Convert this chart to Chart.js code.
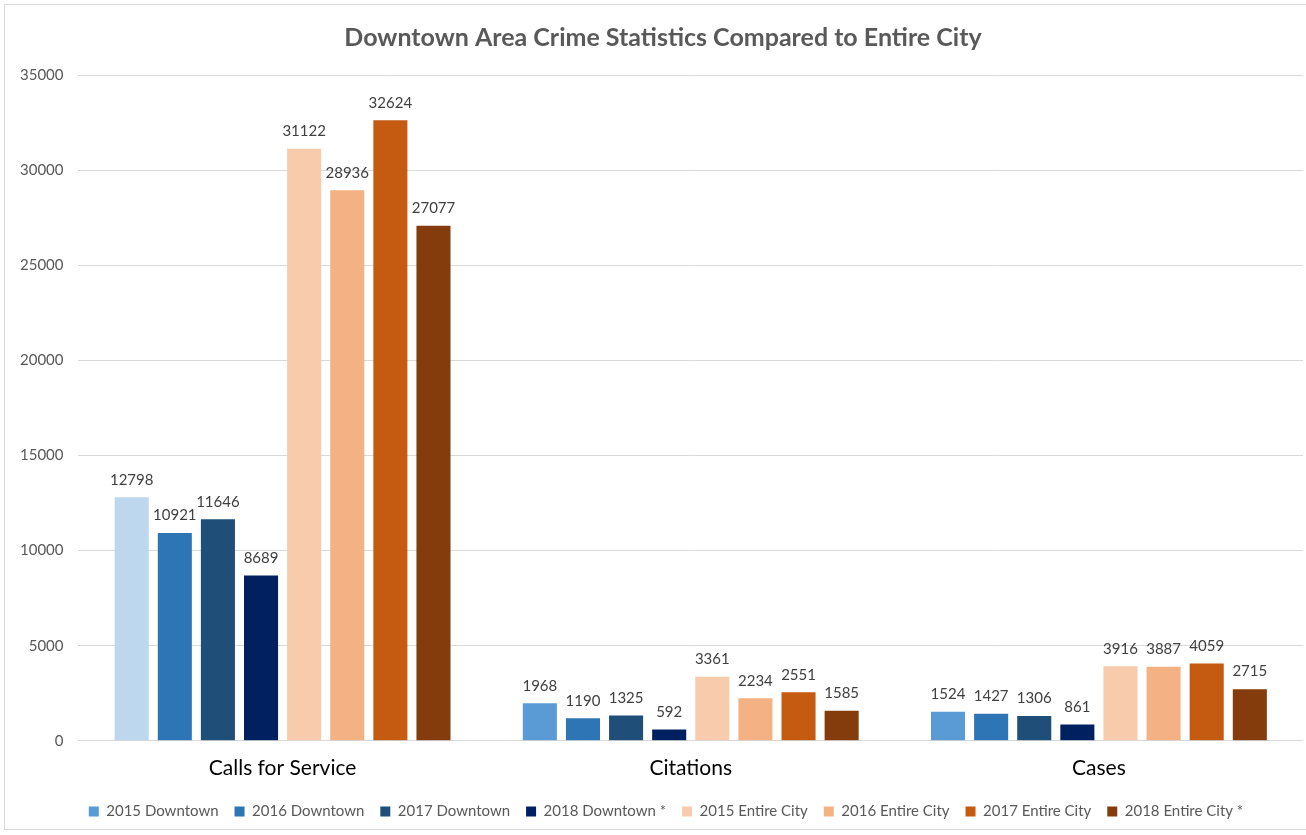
<!DOCTYPE html>
<html>
<head>
<meta charset="utf-8">
<script src="https://cdn.jsdelivr.net/npm/chart.js@4/dist/chart.umd.min.js"></script>
<style>
  html, body { margin: 0; padding: 0; background: #fff; overflow: hidden; width: 1306px; height: 835px; }
  #wrap {
    position: absolute; left: 4px; top: 4px;
    width: 1322px; height: 826px;
    border: 1px solid #d9d9d9; box-sizing: border-box;
  }
</style>
</head>
<body>
<div id="wrap"><canvas id="crimeChart"></canvas></div>
<script>
// Chart data
const categories = ['Calls for Service', 'Citations', 'Cases'];
const seriesNames = [
    '2015 Downtown', '2016 Downtown', '2017 Downtown', '2018 Downtown *',
    '2015 Entire City', '2016 Entire City', '2017 Entire City', '2018 Entire City *'
];
const downtown2015 = [12798, 1968, 1524];
const downtown2016 = [10921, 1190, 1427];
const downtown2017 = [11646, 1325, 1306];
const downtown2018 = [8689, 592, 861];
const city2015 = [31122, 3361, 3916];
const city2016 = [28936, 2234, 3887];
const city2017 = [32624, 2551, 4059];
const city2018 = [27077, 1585, 2715];
const yTicks = [0, 5000, 10000, 15000, 20000, 25000, 30000, 35000];

const seriesValues = [downtown2015, downtown2016, downtown2017, downtown2018,
                      city2015, city2016, city2017, city2018];
const seriesColors = ['#5B9BD5', '#2E75B6', '#1F4E79', '#002060',
                      '#F8CBAD', '#F4B183', '#C55A11', '#843C0C'];

const FONT = 'Lato, "Open Sans", sans-serif';

// Draw value labels on top of bars
const barValueLabels = {
    id: 'barValueLabels',
    afterDatasetsDraw(chart) {
        const { ctx } = chart;
        ctx.save();
        ctx.font = '15px ' + FONT;
        ctx.fillStyle = '#404040';
        ctx.textAlign = 'center';
        ctx.textBaseline = 'bottom';
        chart.data.datasets.forEach((ds, i) => {
            const meta = chart.getDatasetMeta(i);
            meta.data.forEach((bar, j) => {
                ctx.fillText(String(ds.data[j]), bar.x, bar.y - 10);
            });
        });
        ctx.restore();
    }
};

// Nudge title and legend to the right a little (the original is centred on a wider frame)
const centerNudge = {
    id: 'centerNudge',
    afterLayout(chart) {
        const t = chart.titleBlock, l = chart.legend;
        if (t) { t.left += 9; t.right += 9; }
        if (l) { l.left += 12; l.right += 12; }
    }
};

const datasets = seriesNames.map((name, i) => {
    let bg = seriesColors[i];
    // first point of 2015 Downtown is drawn lighter in the original
    if (i === 0) {
        bg = seriesValues[i].map((v, j) => j === 0 ? '#BDD7EE' : seriesColors[i]);
    }
    return {
        label: name,
        data: seriesValues[i],
        backgroundColor: bg,
        borderWidth: 0,
        barPercentage: 0.79,
        categoryPercentage: 0.845
    };
});

const ctx = document.getElementById('crimeChart');
new Chart(ctx, {
    type: 'bar',
    data: { labels: categories, datasets: datasets },
    options: {
        responsive: true,
        maintainAspectRatio: false,
        animation: false,
        layout: { padding: { left: 0, right: 22, bottom: 0 } },
        plugins: {
            title: {
                display: true,
                text: 'Downtown Area Crime Statistics Compared to Entire City',
                color: '#595959',
                font: { family: FONT, size: 25, weight: 'bold' },
                padding: { top: 18, bottom: 22 }
            },
            legend: {
                position: 'bottom',
                labels: {
                    color: '#595959',
                    font: { family: FONT, size: 15 },
                    boxWidth: 10,
                    boxHeight: 10,
                    padding: 16,
                    generateLabels(chart) {
                        return chart.data.datasets.map((ds, i) => ({
                            text: ds.label,
                            fillStyle: seriesColors[i],
                            strokeStyle: seriesColors[i],
                            lineWidth: 0,
                            datasetIndex: i,
                            fontColor: '#595959'
                        }));
                    }
                }
            },
            tooltip: { enabled: false }
        },
        scales: {
            x: {
                grid: { display: false },
                border: { display: false },
                ticks: {
                    color: '#000000',
                    font: { family: FONT, size: 21 },
                    padding: 7
                }
            },
            y: {
                min: 0,
                max: 35000,
                afterBuildTicks(axis) {
                    axis.ticks = yTicks.map(v => ({ value: v }));
                },
                grid: { color: '#d9d9d9', drawTicks: false },
                border: { display: false },
                ticks: {
                    color: '#595959',
                    font: { family: FONT, size: 15 },
                    padding: 15,
                    callback: v => String(v)
                }
            }
        }
    },
    plugins: [barValueLabels, centerNudge]
});
</script>
</body>
</html>
